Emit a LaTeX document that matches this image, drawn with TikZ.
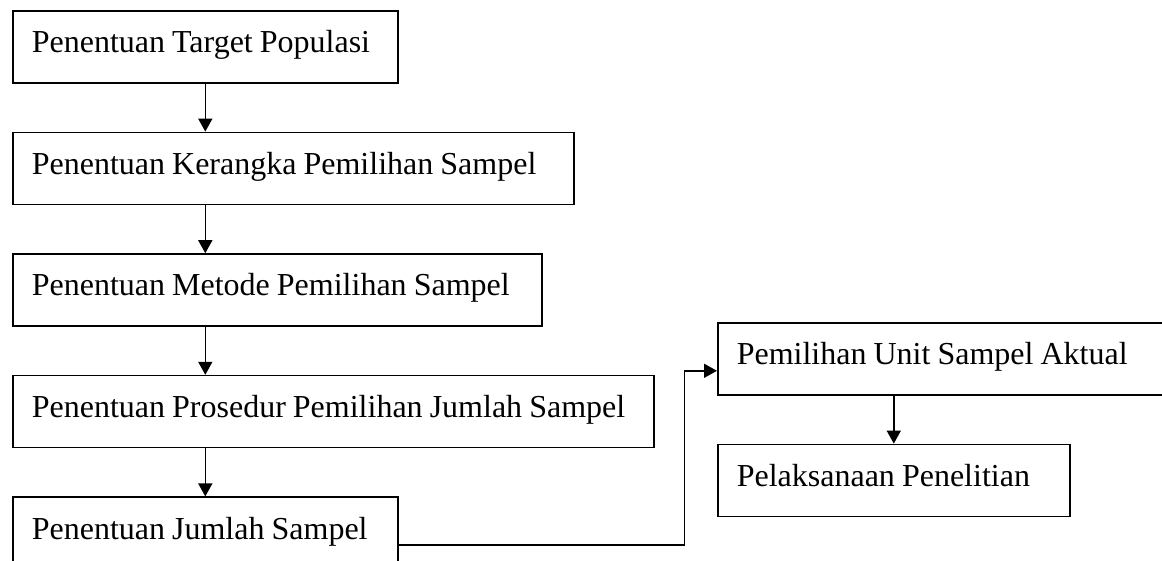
\documentclass[tikz,border=0pt]{standalone}
\usepackage{fontspec}
\setmainfont{Liberation Serif}
\usepackage{tikz}
\usetikzlibrary{positioning,arrows.meta}

\begin{document}
\begin{tikzpicture}[
box/.style={rectangle, draw=black, thick, anchor=north west,
  inner xsep=9.5pt, inner ysep=0pt, text height=21pt, text depth=15pt,
  font=\fontsize{16pt}{19pt}\selectfont,
  execute at begin node={\spaceskip=0.22em\relax\mbox\bgroup}, execute at end node={\egroup}},
>={Triangle[length=6.5pt,width=7pt]},
node distance=24pt
]
\useasboundingbox (0,0) rectangle (581pt,-280.5pt);
\clip (0,0) rectangle (581pt,-280.5pt);
%Nodes
\node[box, text width=173.5pt]    (p1)  at (6pt,-5pt)                                {Penentuan Target Populasi};
\node[box, text width=261.5pt]    (p2)  [below=of p1.south west, anchor=north west]  {Penentuan Kerangka Pemilihan Sampel};
\node[box, text width=245.5pt]    (p3)  [below=of p2.south west, anchor=north west]  {Penentuan Metode Pemilihan Sampel};
\node[box, text width=301.5pt]    (p4)  [below=of p3.south west, anchor=north west]  {Penentuan Prosedur Pemilihan Jumlah Sampel};
\node[box, text width=173.5pt]    (p5)  [below=of p4.south west, anchor=north west]  {Penentuan Jumlah Sampel};
\node[box, text width=221pt]      (q1)  at (358.5pt,-161pt)                          {Pemilihan Unit Sampel Aktual};
\node[box, text width=157pt]      (q2)  [below=of q1.south west, anchor=north west]  {Pelaksanaan Penelitian};
%Lines
\draw[->, thick] (p1) -- (p1 |- p2.north);
\draw[->, thick] (p2.south -| p1.south) -- (p3.north -| p1.south);
\draw[->, thick] (p3.south -| p1.south) -- (p4.north -| p1.south);
\draw[->, thick] (p4.south -| p1.south) -- (p5.north -| p1.south);
\draw[->, thick] ([yshift=-6pt]p5.east) -| ([xshift=-16.25pt,yshift=-6pt]q1.west) -- ([yshift=-6pt]q1.west);
\draw[->, thick] (q1.south -| q2.north) -- (q2.north);
\end{tikzpicture}
\end{document}
